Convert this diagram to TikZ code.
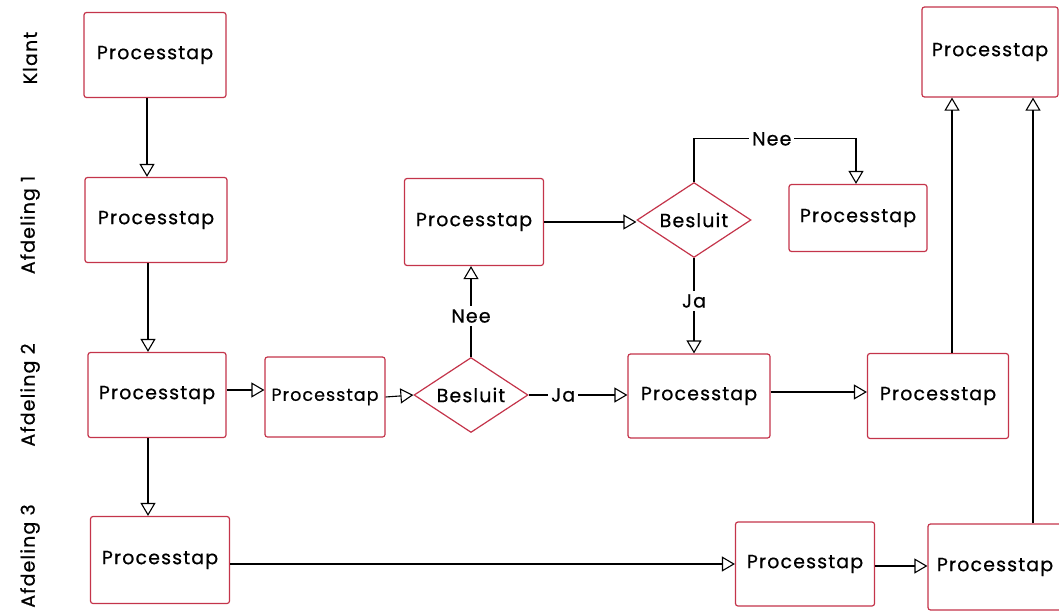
\documentclass[tikz,border=0pt]{standalone}
\usepackage{fontspec}
\setmainfont{Poppins}[LetterSpace=6,FakeBold=0.6]
\usetikzlibrary{arrows.meta,shapes.geometric,calc}
\definecolor{boxred}{RGB}{196,52,74}
\begin{document}
\begin{tikzpicture}[x=1pt,y=-1pt,
  txt/.style={font=\fontsize{19}{22}\selectfont},
  proc/.style 2 args={draw=boxred, line width=1.2pt, rounded corners=2.5pt, fill=white,
    minimum width=#1, minimum height=#2, inner sep=0pt, txt},
  dec/.style={draw=boxred, line width=1.2pt, diamond, aspect=1.5, fill=white,
    minimum width=114, minimum height=75, inner sep=0pt, txt},
  lane/.style={rotate=90, txt},
  arr/.style={draw=black, line width=1.1pt, -{Triangle[open,length=13pt,width=15pt,line width=1.1pt]}},
  lbl/.style={fill=white, inner sep=3pt, txt}]
\useasboundingbox (0,0) rectangle (1059,610);
% lanes
\node[lane] (l0) at (30,58) {Klant};
\node[lane] (l1) at (30,225) {Afdeling 1};
\node[lane] (l2) at (30,395) {Afdeling 2};
\node[lane] (l3) at (30,556) {Afdeling 3};
% nodes
\node[proc={142}{85}] (k1) at (155,55) {Processtap};
\node[proc={136}{90}] (k2) at (990,52) {Processtap};
\node[proc={142}{85}] (a1) at (156,220) {Processtap};
\node[proc={139}{87}] (m1) at (474,222) {Processtap};
\node[dec] (b1) at (694,220) {Besluit};
\node[proc={138}{67}] (r1) at (858,218) {Processtap};
\node[proc={138}{85}] (a2) at (157,395) {Processtap};
\node[proc={120}{80}, font=\fontsize{17.5}{20}\selectfont] (c2) at (325,397) {Processtap};
\node[dec] (b2) at (471,395) {Besluit};
\node[proc={142}{84}] (d2) at (699,396) {Processtap};
\node[proc={141}{85}] (e2) at (938,396) {Processtap};
\node[proc={139}{87}] (a3) at (160,560) {Processtap};
\node[proc={139}{84}] (f3) at (805,564) {Processtap};
\node[proc={134}{86}] (g3) at (995,567) {Processtap};
% connectors
\draw[arr] ([xshift=-8]k1.south) -- ([xshift=-8]k1.south |- a1.north);
\draw[arr] ([xshift=-8]a1.south) -- ([xshift=-8]a1.south |- a2.north);
\draw[arr] ([xshift=-9]a2.south) -- ([xshift=-9]a2.south |- a3.north);
\draw[arr] ([yshift=5]a2.east) -- ([yshift=5]a2.east -| c2.west);
\draw[arr] (c2.east) -- (b2.west);
\draw[arr] (b2.east) -- node[lbl,pos=0.35] (ja2) {Ja} (b2.east -| d2.west);
\draw[arr] (b2.north) -- node[lbl,pos=0.45] (nee2) {Nee} (b2.north |- m1.south);
\draw[arr] (m1.east) -- (m1.east -| b1.west);
\draw[arr] (b1.south) -- node[lbl,pos=0.45] (ja1) {Ja} (b1.south |- d2.north);
\draw[arr] (b1.north) -- ++(0,-43) -| node[lbl,pos=0.24] (nee1) {Nee} ([xshift=-2]r1.north);
\draw[arr] ([yshift=4]d2.east) -- ([yshift=4]d2.east -| e2.west);
\draw[arr] ([xshift=14]e2.north) -- ([xshift=14]e2.north |- k2.south);
\draw[arr] ([xshift=38]g3.north) -- ([xshift=38]g3.north |- k2.south);
\draw[arr] ([yshift=-4]a3.east) -- ([yshift=-4]a3.east -| f3.west);
\draw[arr] ([yshift=-2]f3.east) -- ([yshift=-2]f3.east -| g3.west);
\end{tikzpicture}
\end{document}
